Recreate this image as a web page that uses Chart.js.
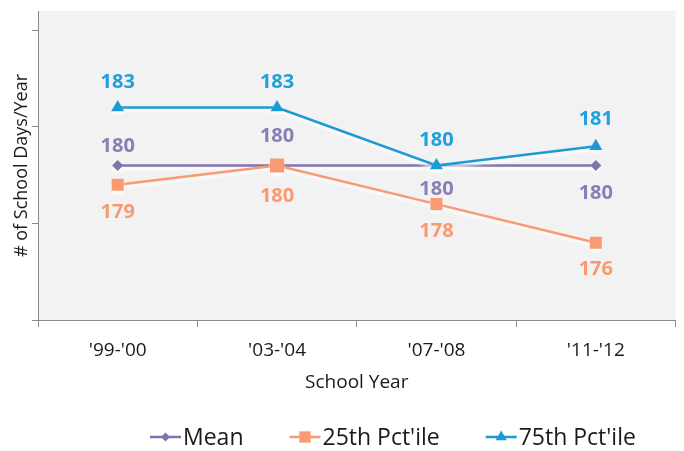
<!DOCTYPE html>
<html>
<head>
<meta charset="utf-8">
<script src="https://cdn.jsdelivr.net/npm/chart.js@4/dist/chart.umd.min.js"></script>
<style>
  html, body { margin: 0; padding: 0; background: #fff; }
  #wrap { width: 684px; height: 451px; }
</style>
</head>
<body>
<div id="wrap"><canvas id="c" width="684" height="451"></canvas></div>
<script>
// ---------------- data ----------------
const years = ["'99-'00", "'03-'04", "'07-'08", "'11-'12"];
const meanDays = [180, 180, 180, 180];
const p25Days = [179, 180, 178, 176];
const p75Days = [183, 183, 180, 181];
const yTicks = [172, 177, 182, 187];

// label offsets (px from point) -- placement only
const labelOffsets = {
  'Mean': [-19, -29, 24, 28],
  "25th Pct'ile": [27, 31, 27, 27],
  "75th Pct'ile": [-25, -25, -25, -27]
};

const FONT = "'Open Sans', 'DejaVu Sans', sans-serif";

// grey plot background
const plotBg = {
  id: 'plotBg',
  beforeDraw(chart) {
    const {ctx, chartArea: a} = chart;
    ctx.save();
    ctx.fillStyle = '#f2f2f2';
    ctx.fillRect(a.left, a.top, a.right - a.left, a.bottom - a.top);
    ctx.restore();
  }
};

// soft white glow under the lines
const lineGlow = {
  id: 'lineGlow',
  beforeDatasetDraw(chart) {
    const ctx = chart.ctx;
    ctx.save();
    ctx.shadowColor = 'rgba(255,255,255,0.95)';
    ctx.shadowBlur = 3;
    ctx.shadowOffsetY = 3;
  },
  afterDatasetDraw(chart) {
    chart.ctx.restore();
  }
};

// value labels
const valueLabels = {
  id: 'valueLabels',
  afterDatasetsDraw(chart) {
    const ctx = chart.ctx;
    ctx.save();
    ctx.font = 'bold 20px ' + FONT;
    ctx.textAlign = 'center';
    ctx.textBaseline = 'middle';
    chart.data.datasets.forEach((ds, i) => {
      const meta = chart.getDatasetMeta(i);
      const offs = labelOffsets[ds.label];
      ctx.fillStyle = ds.labelColor;
      meta.data.forEach((pt, j) => {
        ctx.fillText(String(ds.data[j]), pt.x, pt.y + offs[j]);
      });
    });
    ctx.restore();
  }
};

// legend: line + marker + text
const lineLegend = {
  id: 'lineLegend',
  afterDraw(chart) {
    const ctx = chart.ctx;
    const y = 437;
    let x = 150;
    ctx.save();
    ctx.font = '23px ' + FONT;
    ctx.textBaseline = 'middle';
    chart.data.datasets.forEach((ds) => {
      ctx.strokeStyle = ds.borderColor;
      ctx.lineWidth = 2.5;
      ctx.beginPath();
      ctx.moveTo(x, y);
      ctx.lineTo(x + 31, y);
      ctx.stroke();
      ctx.fillStyle = ds.backgroundColor;
      Chart.helpers.drawPoint(ctx, {
        pointStyle: ds.pointStyle, radius: ds.legendRadius, rotation: 0, borderWidth: 0
      }, x + 15.5, y);
      ctx.fillStyle = '#1a1a1a';
      ctx.fillText(ds.label, x + 33, y + 1);
      x += 33 + ctx.measureText(ds.label).width + 46;
    });
    ctx.restore();
  }
};

new Chart(document.getElementById('c'), {
  type: 'line',
  data: {
    labels: years,
    datasets: [
      {
        label: 'Mean', data: meanDays, order: 3,
        borderColor: '#8073ae', backgroundColor: '#8073ae', labelColor: '#8a7db8',
        borderWidth: 2.5, pointStyle: 'rectRot', pointRadius: 5.5, legendRadius: 4.5,
        pointBorderWidth: 0
      },
      {
        label: "25th Pct'ile", data: p25Days, order: 2,
        borderColor: '#f99a72', backgroundColor: '#f99a72', labelColor: '#f99a6e',
        borderWidth: 2.5, pointStyle: 'rect', pointRadius: [8.5, 10, 8.5, 8.5], legendRadius: 8,
        pointBorderWidth: 0
      },
      {
        label: "75th Pct'ile", data: p75Days, order: 1,
        borderColor: '#1c9ad6', backgroundColor: '#1c9ad6', labelColor: '#20a0dc',
        borderWidth: 2.5, pointStyle: 'triangle', pointRadius: 7.5, legendRadius: 6.5,
        pointBorderWidth: 0
      }
    ]
  },
  options: {
    responsive: false,
    animation: false,
    layout: { padding: { top: 11, right: 6, left: 0, bottom: 57 } },
    plugins: { legend: { display: false }, tooltip: { enabled: false } },
    elements: { line: { tension: 0 } },
    scales: {
      x: {
        offset: true,
        grid: { offset: true, drawOnChartArea: false, drawTicks: true, tickLength: 7, color: '#8a8a8a' },
        border: { color: '#8a8a8a', width: 1 },
        ticks: { color: '#1a1a1a', font: { family: FONT, size: 19 }, padding: 12, maxRotation: 0 },
        title: { display: true, text: 'School Year', color: '#1a1a1a',
                 font: { family: FONT, size: 19 }, padding: { top: 0, bottom: 0 } },
        afterFit(scale) { scale.height = 74; }
      },
      y: {
        min: 172, max: 188,
        afterBuildTicks(scale) { scale.ticks = yTicks.map(v => ({ value: v })); },
        grid: { drawOnChartArea: false, drawTicks: true, tickLength: 6, color: '#8a8a8a' },
        border: { color: '#8a8a8a', width: 1 },
        ticks: { display: false },
        title: { display: true, text: '# of School Days/Year', color: '#1a1a1a',
                 font: { family: FONT, size: 18 }, padding: { top: 11, bottom: 0 } },
        afterFit(scale) { scale.width = 38; }
      }
    }
  },
  plugins: [plotBg, lineGlow, valueLabels, lineLegend]
});
</script>
</body>
</html>
